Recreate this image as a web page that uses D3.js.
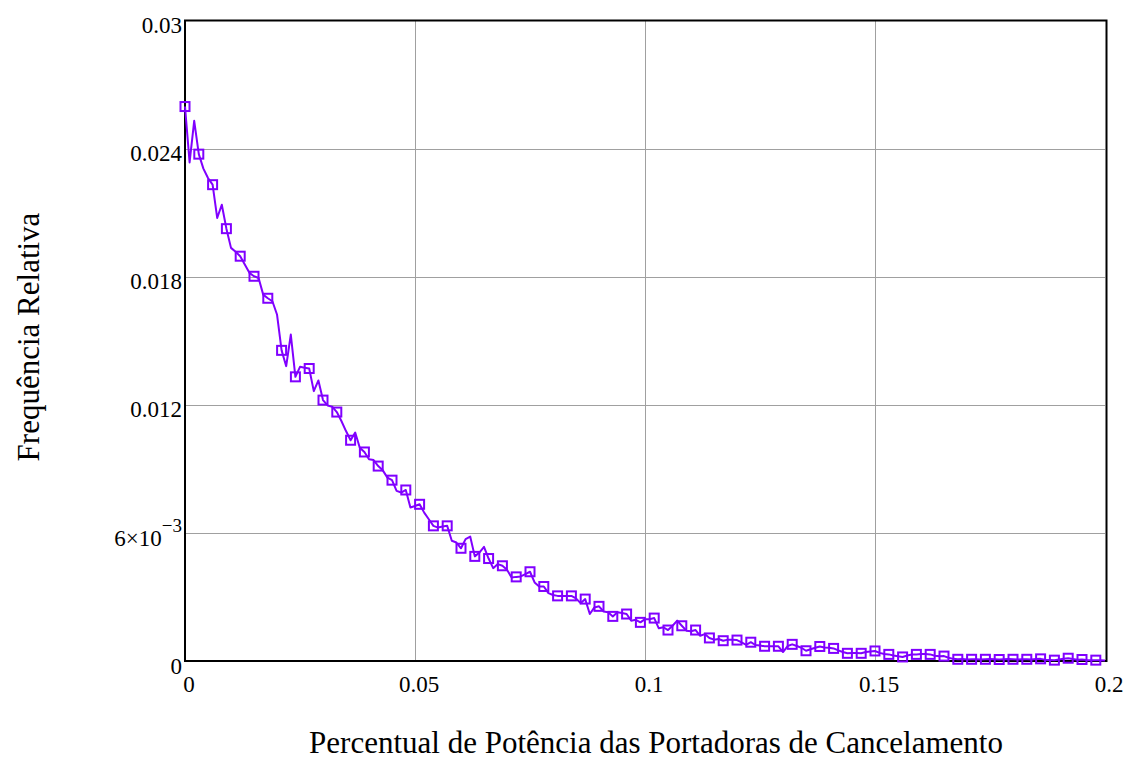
<!DOCTYPE html>
<html>
<head>
<meta charset="utf-8">
<script src="https://cdn.jsdelivr.net/npm/d3@7"></script>
<style>
  body { margin: 0; background: white; }
  text { font-family: 'Liberation Serif', 'Times New Roman', serif; }
</style>
</head>
<body>
<script>
//Data: x step 0.001, values in units of 1e-3
let xStep = 0.001;
let markerEvery = 3;
let freq = [
  25.97, 23.35, 25.30, 23.74, 23.06, 22.62, 22.31, 20.75, 21.37, 20.25,
  19.35, 19.17, 18.96, 18.57, 18.18, 18.02, 17.94, 17.16, 16.99, 16.85,
  16.23, 14.55, 13.81, 15.29, 13.31, 13.78, 13.74, 13.70, 12.64, 13.14,
  12.22, 11.97, 11.91, 11.66, 11.24, 10.77, 10.34, 10.70, 9.99, 9.79,
  9.45, 9.41, 9.13, 8.93, 8.59, 8.47, 7.97, 7.89, 8.01, 7.19,
  7.26, 7.34, 6.95, 6.64, 6.33, 6.25, 6.30, 6.33, 5.63, 5.55,
  5.28, 5.71, 5.83, 4.90, 5.08, 5.35, 4.80, 4.35, 4.54, 4.46,
  4.27, 3.91, 3.94, 3.96, 4.07, 4.18, 3.68, 3.49, 3.49, 3.18,
  3.09, 3.05, 3.05, 3.05, 3.05, 2.93, 2.71, 2.90, 2.20, 2.51,
  2.56, 2.32, 2.28, 2.09, 2.28, 2.25, 2.20, 1.89, 1.93, 1.81,
  1.96, 1.96, 2.01, 1.53, 1.58, 1.45, 1.65, 1.89, 1.65, 1.42,
  1.39, 1.45, 1.18, 1.26, 1.08, 1.00, 1.03, 0.95, 1.00, 1.00,
  0.98, 0.87, 0.76, 0.88, 0.75, 0.73, 0.69, 0.69, 0.69, 0.69,
  0.42, 0.70, 0.78, 0.70, 0.62, 0.48, 0.55, 0.62, 0.68, 0.63,
  0.62, 0.59, 0.50, 0.42, 0.36, 0.38, 0.38, 0.36, 0.42, 0.45,
  0.47, 0.38, 0.33, 0.31, 0.26, 0.22, 0.19, 0.26, 0.30, 0.31,
  0.33, 0.33, 0.31, 0.25, 0.22, 0.23, 0.15, 0.10, 0.08, 0.09,
  0.07, 0.08, 0.08, 0.07, 0.08, 0.09, 0.08, 0.07, 0.08, 0.09,
  0.08, 0.07, 0.08, 0.08, 0.07, 0.09, 0.10, 0.06, 0.05, 0.04,
  0.07, 0.10, 0.13, 0.09, 0.06, 0.07, 0.05, 0.04, 0.04, 0.03,
  0.02
];

let xTicks = [0, 0.05, 0.1, 0.15, 0.2];
let xTickLabels = ['0', '0.05', '0.1', '0.15', '0.2'];
let yTicks = [0, 0.006, 0.012, 0.018, 0.024, 0.03];
let yTickLabels = ['0', '6×10|−3', '0.012', '0.018', '0.024', '0.03'];

let data = freq.map((v, i) => ({ x: i * xStep, y: v / 1000, i: i }));

let
  width = 1130,
  height = 761;

let margin = {
  top: 20.5,
  bottom: 100,
  left: 185,
  right: 25
}

let purple = '#8000ff';

let svg = d3.select('body')
            .append('svg')
            .attr('width', width)
            .attr('height', height)
            .style('background', 'white')

let xscale = d3.scaleLinear()
              .domain([0, 0.2])
              .range([margin.left, width - margin.right])

let yscale = d3.scaleLinear()
              .domain([0, 0.03])
              .range([height - margin.bottom, margin.top])

//Grid
svg.append('g')
  .selectAll('line')
  .data(xTicks.slice(1, -1))
  .join('line')
  .attr('x1', d => xscale(d) + 0.5)
  .attr('x2', d => xscale(d) + 0.5)
  .attr('y1', yscale(0))
  .attr('y2', yscale(0.03))
  .attr('stroke', '#a0a0a0')
  .attr('stroke-width', 1)

svg.append('g')
  .selectAll('line')
  .data(yTicks.slice(1, -1))
  .join('line')
  .attr('x1', xscale(0))
  .attr('x2', xscale(0.2))
  .attr('y1', d => Math.round(yscale(d)) + 0.5)
  .attr('y2', d => Math.round(yscale(d)) + 0.5)
  .attr('stroke', '#a0a0a0')
  .attr('stroke-width', 1)

//Frame
svg.append('rect')
  .attr('x', xscale(0))
  .attr('y', yscale(0.03))
  .attr('width', xscale(0.2) - xscale(0) + 1.5)
  .attr('height', yscale(0) - yscale(0.03))
  .attr('fill', 'none')
  .attr('stroke', 'black')
  .attr('stroke-width', 2)

//Tick labels
svg.append('g')
  .selectAll('text')
  .data(xTicks)
  .join('text')
  .text((d, i) => xTickLabels[i])
  .attr('x', d => xscale(d) + 4)
  .attr('y', yscale(0) + 31)
  .attr('text-anchor', 'middle')
  .attr('font-size', 23)

let ylab = svg.append('g')
  .selectAll('text')
  .data(yTicks)
  .join('text')
  .attr('x', xscale(0) - 3)
  .attr('y', d => yscale(d) + 12.6)
  .attr('text-anchor', 'end')
  .attr('font-size', 23)

ylab.each(function (d, i) {
  let parts = yTickLabels[i].split('|');
  let t = d3.select(this);
  t.append('tspan').text(parts[0]);
  if (parts[1]) {
    t.attr('y', yscale(d) + 13.4);
    t.append('tspan')
      .text(parts[1])
      .attr('dy', -14)
      .attr('font-size', 19);
  }
})

//Axis titles
svg.append('text')
  .text('Percentual de Potência das Portadoras de Cancelamento')
  .attr('x', 656)
  .attr('y', 753)
  .attr('text-anchor', 'middle')
  .attr('font-size', 31)

svg.append('text')
  .text('Frequência Relativa')
  .attr('x', -337)
  .attr('y', 39)
  .attr('text-anchor', 'middle')
  .attr('transform', 'rotate(-90)')
  .attr('font-size', 31)

//Line and markers
let line = d3.line()
            .x(d => xscale(d.x))
            .y(d => yscale(d.y))

svg.append('path')
  .datum(data)
  .attr('d', line)
  .attr('fill', 'none')
  .attr('stroke', purple)
  .attr('stroke-width', 2)
  .attr('stroke-linejoin', 'round')

let msize = 9;
svg.append('g')
  .selectAll('rect')
  .data(data.filter(d => d.i % markerEvery === 0))
  .join('rect')
  .attr('x', d => xscale(d.x) - msize / 2)
  .attr('y', d => yscale(d.y) - msize / 2)
  .attr('width', msize)
  .attr('height', msize)
  .attr('fill', 'none')
  .attr('stroke', purple)
  .attr('stroke-width', 2)
</script>
</body>
</html>
